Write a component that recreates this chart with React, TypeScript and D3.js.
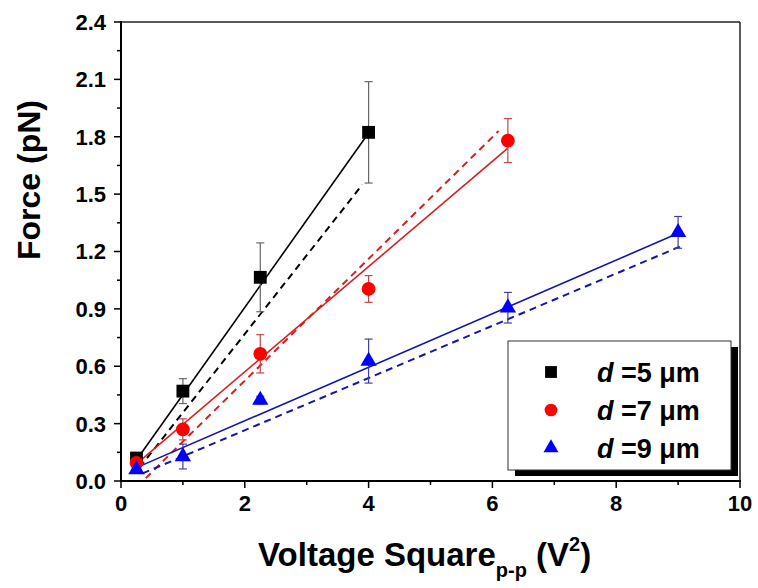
import React from 'react';
import * as d3 from 'd3';

// measured points, V^2 (p-p) vs force in pN
const v5 = [0.25, 1, 2.25, 4];
const f5 = [0.12, 0.47, 1.065, 1.823];
const e5 = [0.025, 0.065, 0.18, 0.265];

const v7 = [0.25, 1, 2.25, 4, 6.25];
const f7 = [0.095, 0.27, 0.665, 1.004, 1.78];
const e7 = [0.02, 0.055, 0.1, 0.07, 0.115];

const v9 = [0.25, 1, 2.25, 4, 6.25, 9];
const f9 = [0.06, 0.128, 0.423, 0.627, 0.906, 1.3];
const e9 = [0.02, 0.065, 0.02, 0.115, 0.08, 0.083];

// fitted (solid) and model (dashed) lines, end values
const fit5 = [[0.25, 0.11], [4, 1.82]];
const model5 = [[0.3, 0.07], [3.9, 1.55]];
const fit7 = [[0.25, 0.09], [6.25, 1.74]];
const model7 = [[0.4, 0.015], [6.1, 1.83]];
const fit9 = [[0.25, 0.07], [9, 1.295]];
const model9 = [[0.35, 0.04], [9.1, 1.235]];

const legendLabels = ['5', '7', '9'];
const xTicks = [0, 2, 4, 6, 8, 10];
const xMinor = [1, 3, 5, 7, 9];
const yTicks = [0, 0.3, 0.6, 0.9, 1.2, 1.5, 1.8, 2.1, 2.4];
const yMinor = [0.15, 0.45, 0.75, 1.05, 1.35, 1.65, 1.95, 2.25];

const W = 758, H = 588;
const left = 121, right = 740, top = 22, bottom = 481;
const font = '"Liberation Sans", Arial, sans-serif';

export default function App() {
  const x = d3.scaleLinear().domain([0, 10]).range([left, right]);
  const y = d3.scaleLinear().domain([0, 2.4]).range([bottom, top]);
  const line = d3.line<number[]>().x(d => x(d[0])).y(d => y(d[1]));

  const series = [
    { v: v5, f: f5, e: e5, fit: fit5, model: model5, color: '#000', lineColor: '#000', errColor: '#666', sym: d3.symbolSquare, size: 165 },
    { v: v7, f: f7, e: e7, fit: fit7, model: model7, color: '#ff0000', lineColor: '#d42020', errColor: '#c04848', sym: d3.symbolCircle, size: 150 },
    { v: v9, f: f9, e: e9, fit: fit9, model: model9, color: '#0000ff', lineColor: '#1414b0', errColor: '#4040a0', sym: d3.symbolTriangle, size: 115 },
  ];

  const lx = 508, ly = 341, lw = 223, lh = 129;

  return (
    <svg width={W} height={H} style={{ position: 'absolute', left: 0, top: 0, background: '#fff' }} fontFamily={font}>
      {/* frame */}
      <line x1={left} x2={right} y1={top} y2={top} stroke="#222" strokeWidth={1.5} />
      <line x1={right} x2={right} y1={top} y2={bottom} stroke="#222" strokeWidth={1.5} />
      <line x1={left} x2={left} y1={top - 1} y2={bottom + 1} stroke="#000" strokeWidth={2} />
      <line x1={left - 1} x2={right + 1} y1={bottom} y2={bottom} stroke="#000" strokeWidth={2} />

      {yTicks.map(t => (
        <g key={'y' + t}>
          <line x1={left - 7} x2={left} y1={y(t)} y2={y(t)} stroke="#000" strokeWidth={1.5} />
          <text x={left - 15} y={y(t)} dy="0.36em" textAnchor="end" fontSize={22} fontWeight="bold">{d3.format('.1f')(t)}</text>
        </g>
      ))}
      {yMinor.map(t => (
        <line key={'ym' + t} x1={left - 4} x2={left} y1={y(t)} y2={y(t)} stroke="#000" strokeWidth={1.5} />
      ))}
      {xTicks.map(t => (
        <g key={'x' + t}>
          <line x1={x(t)} x2={x(t)} y1={bottom} y2={bottom + 7} stroke="#000" strokeWidth={1.5} />
          <text x={x(t)} y={bottom + 30} textAnchor="middle" fontSize={22} fontWeight="bold">{t}</text>
        </g>
      ))}
      {xMinor.map(t => (
        <line key={'xm' + t} x1={x(t)} x2={x(t)} y1={bottom} y2={bottom + 4} stroke="#000" strokeWidth={1.5} />
      ))}

      {/* axis titles */}
      <text transform={`translate(40,180) rotate(-90)`} textAnchor="middle" fontSize={32} fontWeight="bold">Force (pN)</text>
      <text x={258} y={566} fontSize={33} fontWeight="bold">
        Voltage Square
        <tspan fontSize={20} dy={11}>p-p</tspan>
        <tspan dy={-11}> (V</tspan>
        <tspan fontSize={20} dy={-15}>2</tspan>
        <tspan dy={15}>)</tspan>
      </text>

      {/* lines */}
      {series.map((s, i) => (
        <g key={'l' + i}>
          <path d={line(s.model) || ''} stroke={s.lineColor} strokeWidth={2} strokeDasharray="7,5" fill="none" />
          <path d={line(s.fit) || ''} stroke={s.lineColor} strokeWidth={1.6} fill="none" />
        </g>
      ))}

      {/* error bars */}
      {series.map((s, i) => (
        <g key={'e' + i} stroke={s.errColor} strokeWidth={1.2}>
          {s.v.map((v, j) => (
            <g key={j}>
              <line x1={x(v)} x2={x(v)} y1={y(s.f[j] - s.e[j])} y2={y(s.f[j] + s.e[j])} />
              <line x1={x(v) - 4} x2={x(v) + 4} y1={y(s.f[j] + s.e[j])} y2={y(s.f[j] + s.e[j])} />
              <line x1={x(v) - 4} x2={x(v) + 4} y1={y(s.f[j] - s.e[j])} y2={y(s.f[j] - s.e[j])} />
            </g>
          ))}
        </g>
      ))}

      {/* markers */}
      {series.map((s, i) => (
        <g key={'m' + i} fill={s.color}>
          {s.v.map((v, j) => (
            <path key={j} transform={`translate(${x(v)},${y(s.f[j])})`} d={d3.symbol().type(s.sym).size(s.size)() || ''} />
          ))}
        </g>
      ))}

      {/* legend */}
      <rect x={lx + 7} y={ly + 6} width={lw} height={lh} fill="#000" />
      <rect x={lx} y={ly} width={lw} height={lh} fill="#fff" stroke="#333" strokeWidth={1} />
      {series.map((s, i) => {
        const cy = ly + 31 + i * 38;
        return (
          <g key={'lg' + i}>
            <path transform={`translate(${lx + 43},${cy})`} fill={s.color} d={d3.symbol().type(s.sym).size(s.size * 0.85)() || ''} />
            <text x={lx + 89} y={cy} dy="0.36em" fontSize={27} fontWeight="bold">
              <tspan fontStyle="italic">d</tspan> =
              {legendLabels[i]} μm
            </text>
          </g>
        );
      })}
    </svg>
  );
}
